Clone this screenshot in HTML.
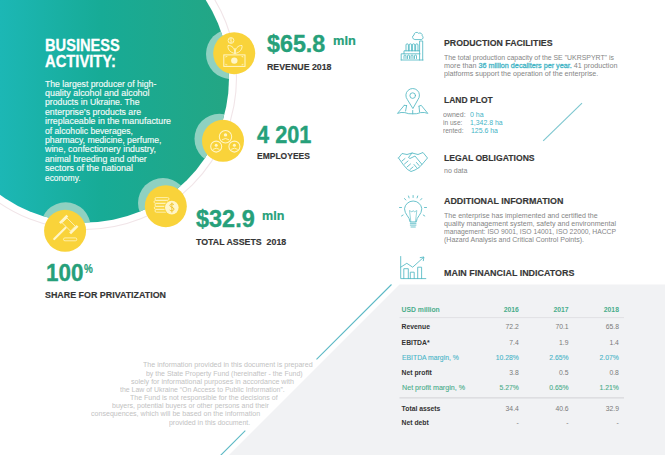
<!DOCTYPE html>
<html><head><meta charset="utf-8">
<style>
html,body{margin:0;padding:0;}
body{width:665px;height:455px;position:relative;overflow:hidden;background:#fff;font-family:"Liberation Sans",sans-serif;}
svg.bg{position:absolute;left:0;top:0;}
.t{position:absolute;white-space:nowrap;line-height:1;transform-origin:0 0;}
</style></head><body>
<svg class="bg" width="665" height="455" viewBox="0 0 665 455">
<defs>
<linearGradient id="tg" gradientUnits="userSpaceOnUse" x1="0" y1="0" x2="225" y2="0">
<stop offset="0" stop-color="#1cb7b5"/>
<stop offset="0.45" stop-color="#17ab96"/>
<stop offset="1" stop-color="#23a684"/>
</linearGradient>
<clipPath id="cc"><circle cx="85" cy="78.5" r="144"/></clipPath>
</defs>
<!-- grey panel -->
<polygon points="399.5,284.5 665,284.5 665,455 229,455" fill="#f1f2f4"/>
<!-- ring -->
<circle cx="85" cy="78" r="151.5" fill="none" stroke="#f1e5e8" stroke-width="1.1"/>
<!-- teal circle -->
<circle cx="85" cy="78.5" r="144" fill="url(#tg)"/>
<g clip-path="url(#cc)" fill="#8fd1c1">
<circle cx="231" cy="54" r="25"/>
<circle cx="219.5" cy="138.8" r="25"/>
<circle cx="163" cy="203" r="25"/>
<circle cx="65.6" cy="227.3" r="25"/>
</g>
<!-- yellow circles -->
<g fill="#f9d33a">
<circle cx="234.2" cy="53.2" r="21"/>
<circle cx="223" cy="140.8" r="21"/>
<circle cx="165.8" cy="206.2" r="21"/>
<circle cx="65.1" cy="230.8" r="21"/>
</g>
<!-- icon glyphs -->
<g fill="none" stroke="#fff6c8" stroke-width="1">
 <!-- revenue -->
 <rect x="223.8" y="54.9" width="21.2" height="11.5"/>
 <path d="M225.8 57.5 v-1 h1.5 M243 57.5 v-1 h-1.5 M225.8 63.8 v1 h1.5 M243 63.8 v1 h-1.5" stroke-width="0.7"/>
 <circle cx="234.3" cy="60.6" r="3.2" fill="#fff6c8" stroke="none"/>
 <path d="M235 53.5 C229.5 52.5 227.5 48.5 228 45.5 C232 45.2 235 48.5 235 53.5 Z M235 53.5 C240.5 52.5 242.5 48.5 242 45.5 C238 45.2 235 48.5 235 53.5 Z M235 53.5 V48" stroke-width="0.9"/>
 <circle cx="231" cy="40.5" r="2.9" stroke-width="0.9"/>
 <path d="M232 39.2 c-0.5 -0.6 -2.2 -0.6 -2.2 0.5 c0 1 2.2 0.8 2.2 1.8 c0 1 -1.7 1 -2.2 0.4 M231 38 v5" stroke-width="0.6"/>
 <!-- employees -->
 <g stroke-width="1.05">
 <circle cx="225.5" cy="136.7" r="6.2"/>
 <circle cx="216.2" cy="146.6" r="5.5"/>
 <circle cx="234.4" cy="146.6" r="5.5"/>
 </g>
 <circle cx="225.5" cy="134.9" r="1.7" fill="#fff6c8" stroke="none"/>
 <circle cx="216.2" cy="145.2" r="1.5" fill="#fff6c8" stroke="none"/>
 <circle cx="234.4" cy="145.2" r="1.5" fill="#fff6c8" stroke="none"/>
 <path d="M222 139.8 q3.5 -2.6 7 0 M212.9 149.4 q3.3 -2.4 6.6 0 M231.1 149.4 q3.3 -2.4 6.6 0" stroke-width="0.9"/>
 <!-- assets -->
 <g stroke-width="0.8">
 <rect x="155" y="197.6" width="14" height="2.6" rx="1.3"/>
 <rect x="154" y="200.6" width="14" height="2.6" rx="1.3"/>
 <rect x="155" y="203.6" width="12" height="2.6" rx="1.3"/>
 <rect x="154.3" y="206.6" width="12" height="2.6" rx="1.3"/>
 <rect x="155" y="209.6" width="12" height="2.6" rx="1.3"/>
 </g>
 <circle cx="171.8" cy="207.6" r="7.6" fill="#f9d33a" stroke="none"/>
 <circle cx="171.8" cy="207.6" r="6.8" fill="#fff6c8" stroke="none"/>
 <path d="M173.9 204.6 c-0.8 -1 -4 -1.1 -4 0.9 c0 2 4.1 1.5 4.1 3.6 c0 2.1 -3.4 2.1 -4.3 0.9 M171.9 202.6 v10" stroke="#f0c430" stroke-width="1"/>
 <!-- gavel -->
 <g transform="translate(68.75 224.5) rotate(45)">
  <rect x="-8.5" y="-5.25" width="2.6" height="10.5" fill="#fff6c8" stroke="none"/>
  <rect x="5.9" y="-5.25" width="2.6" height="10.5" fill="#fff6c8" stroke="none"/>
  <rect x="-5.9" y="-3.4" width="11.8" height="6.8" stroke-width="0.8"/>
  <rect x="-1.1" y="3.4" width="2.2" height="18.2" rx="1.1" fill="#fff6c8" stroke="none"/>
 </g>
 <rect x="63.5" y="237.9" width="13.3" height="2.9" rx="1.45" stroke-width="0.8"/>
</g>
</g>
<!-- diagonal teal lines -->
<g stroke="#5cb9c5" stroke-width="1.1">
<line x1="391.5" y1="284.5" x2="316.5" y2="359.3"/>
<line x1="245.3" y1="430.7" x2="220.5" y2="455.5"/>
<line x1="582" y1="103.2" x2="543.2" y2="140.8" stroke="#7cc6cf"/>
</g>
<!-- right column icons -->
<g fill="none" stroke="#52b8c3" stroke-width="0.85" stroke-linejoin="round" stroke-linecap="round">
 <!-- factory -->
 <path d="M401.2 60 V53.8 H420 M401.2 60 H423 M404 53.8 V50.8 H419.6 M406 50.8 V45 a1.2 1.2 0 0 1 2.4 0 V50.8 M409.2 50.8 V45 a1.2 1.2 0 0 1 2.4 0 V50.8 M412.4 50.8 V45 a1.2 1.2 0 0 1 2.4 0 V50.8 M415.6 50.8 V45 a1.2 1.2 0 0 1 2.4 0 V50.8"/>
 <path d="M419.6 60 V41 H422.7 V60"/>
 <path d="M404 58.5 v-2.5 a1 1 0 0 1 2 0 v2.5 M407.5 58.5 v-2.5 a1 1 0 0 1 2 0 v2.5 M411 58.5 v-2.5 a1 1 0 0 1 2 0 v2.5 M414.5 58.5 v-2.5 a1 1 0 0 1 2 0 v2.5"/>
 <path d="M414.5 39.5 a2.3 2.3 0 0 1 -0.5 -4.4 a2.6 2.6 0 0 1 4.6 -1.8 a2.4 2.4 0 0 1 3.6 2.6 a2 2 0 0 1 -0.6 3.6 Z"/>
 <!-- land plot -->
 <path d="M404.3 105.3 L397.5 113.4 Q401 112 404.8 112.6 Q408.7 114.2 412.7 113.8 Q416.7 114.2 420.6 112.6 Q424.4 112 427.8 113.4 L421.2 105.3 L419 106.2 M404.3 105.3 L406.6 105.6 M406.6 105.6 L405.6 111 M419 106.2 L419.6 112 M412.7 113.8 V110.5"/>
 <path d="M412.7 108.2 L407.4 99.6 A6.8 6.8 0 1 1 418 99.6 Z" fill="#fff"/>
 <circle cx="412.7" cy="95.6" r="2.8"/>
 <!-- handshake -->
 <path d="M398.5 158 L402 153.5 L407 154.5 L412 153 L418 154.5 L423 152.5 L427.5 158 L422 164.5"/>
 <path d="M412 153 L408.5 157.5 L410 158.5 L415 156 L422 164.5 L419 167.5"/>
 <path d="M398.5 158 L403.5 165 L407.5 169.5 L411 171.5 L415 170 L419 167.5"/>
 <path d="M402 161 L405 158.5 M404.5 164 L408 161 M407 167 L410.5 164 M410 169.5 L413 167 M414 164.5 L416.5 167.5 M416.5 162.5 L419 165.5"/>
 <!-- bulb -->
 <path d="M410 221.5 C410 217 404.5 214.5 404.5 208.8 A8.7 8.7 0 0 1 421.8 208.8 C421.8 214.5 416.3 217 416.3 221.5 Z"/>
 <path d="M410.3 223.3 H416 M410.3 225.1 H416 M411 227 H415.3"/>
 <path d="M410.8 221.5 L409.5 210.5 L412 212 L413.2 210.5 L414.4 212 L416.8 210.5 L415.5 221.5" stroke-width="0.6"/>
 <path d="M413.1 195.5 v2 M404.5 198.5 l1.3 1.5 M421.8 198.5 l-1.3 1.5 M399.5 207.5 h2 M426.5 207.5 h-2 M401.5 216 l1.6 -1 M424.8 216 l-1.6 -1 M408.5 196 l0.6 1.9 M417.7 196 l-0.6 1.9"/>
 <!-- chart -->
 <path d="M400.7 256.5 V278.6 H425.8"/>
 <path d="M403.8 278.6 V268.7 H408.3 V278.6 M410.3 278.6 V272.2 H414.2 V278.6 M417.7 278.6 V267.2 H421.6 V278.6"/>
 <path d="M400.7 267.2 L406.8 263.3 L412.7 267.2 L423.6 257.3"/>
 <path d="M420.2 257.6 L423.9 257 L423.3 260.7" />
</g>
<!-- table separators -->
<line x1="399.5" y1="317.6" x2="624" y2="317.6" stroke="#e1e1e4" stroke-width="1"/>
<line x1="399.5" y1="397.9" x2="624" y2="397.9" stroke="#d2d2d5" stroke-width="1"/>
</svg>
<div class='t' style='left:45.0px;top:37.93px;font-size:15.8px;font-weight:700;color:#ffffff;transform:scaleX(0.9261);-webkit-text-stroke:0.3px #fff;'>BUSINESS</div>
<div class='t' style='left:45.0px;top:54.13px;font-size:15.8px;font-weight:700;color:#ffffff;transform:scaleX(0.9334);-webkit-text-stroke:0.3px #fff;'>ACTIVITY:</div>
<div class='t' style='left:44.5px;top:79.71px;font-size:9.2px;font-weight:400;color:#f4fbf9;transform:scaleX(0.9433);-webkit-text-stroke:0.15px #f4fbf9;'>The largest producer of high-</div>
<div class='t' style='left:44.5px;top:89.09px;font-size:9.2px;font-weight:400;color:#f4fbf9;transform:scaleX(0.9696);-webkit-text-stroke:0.15px #f4fbf9;'>quality alcohol and alcohol</div>
<div class='t' style='left:44.5px;top:98.47px;font-size:9.2px;font-weight:400;color:#f4fbf9;transform:scaleX(0.9456);-webkit-text-stroke:0.15px #f4fbf9;'>products in Ukraine. The</div>
<div class='t' style='left:44.5px;top:107.85px;font-size:9.2px;font-weight:400;color:#f4fbf9;transform:scaleX(0.9509);-webkit-text-stroke:0.15px #f4fbf9;'>enterprise’s products are</div>
<div class='t' style='left:44.5px;top:117.23px;font-size:9.2px;font-weight:400;color:#f4fbf9;transform:scaleX(0.9599);-webkit-text-stroke:0.15px #f4fbf9;'>irreplaceable in the manufacture</div>
<div class='t' style='left:44.5px;top:126.61px;font-size:9.2px;font-weight:400;color:#f4fbf9;transform:scaleX(0.9363);-webkit-text-stroke:0.15px #f4fbf9;'>of alcoholic beverages,</div>
<div class='t' style='left:44.5px;top:135.99px;font-size:9.2px;font-weight:400;color:#f4fbf9;transform:scaleX(0.9479);-webkit-text-stroke:0.15px #f4fbf9;'>pharmacy, medicine, perfume,</div>
<div class='t' style='left:44.5px;top:145.37px;font-size:9.2px;font-weight:400;color:#f4fbf9;transform:scaleX(0.9631);-webkit-text-stroke:0.15px #f4fbf9;'>wine, confectionery industry,</div>
<div class='t' style='left:44.5px;top:154.75px;font-size:9.2px;font-weight:400;color:#f4fbf9;transform:scaleX(0.9535);-webkit-text-stroke:0.15px #f4fbf9;'>animal breeding and other</div>
<div class='t' style='left:44.5px;top:164.13px;font-size:9.2px;font-weight:400;color:#f4fbf9;transform:scaleX(0.9790);-webkit-text-stroke:0.15px #f4fbf9;'>sectors of the national</div>
<div class='t' style='left:44.5px;top:173.51px;font-size:9.2px;font-weight:400;color:#f4fbf9;transform:scaleX(0.9066);-webkit-text-stroke:0.15px #f4fbf9;'>economy.</div>
<div class='t' style='left:267.0px;top:33.01px;font-size:23.5px;font-weight:700;color:#26a07a;transform:scaleX(0.9913);-webkit-text-stroke:0.35px #26a07a;'>$65.8</div>
<div class='t' style='left:332.8px;top:34.34px;font-size:13.3px;font-weight:700;color:#26a07a;transform:scaleX(0.9644);-webkit-text-stroke:0.20px #26a07a;'>mln</div>
<div class='t' style='left:267.0px;top:63.48px;font-size:9.0px;font-weight:700;color:#353535;transform:scaleX(0.9766);-webkit-text-stroke:0.15px #353535;'>REVENUE 2018</div>
<div class='t' style='left:257.0px;top:122.85px;font-size:23.8px;font-weight:700;color:#26a07a;transform:scaleX(0.9133);-webkit-text-stroke:0.35px #26a07a;'>4 201</div>
<div class='t' style='left:256.6px;top:151.91px;font-size:9.2px;font-weight:700;color:#353535;transform:scaleX(0.9250);-webkit-text-stroke:0.15px #353535;'>EMPLOYEES</div>
<div class='t' style='left:195.8px;top:208.31px;font-size:23.5px;font-weight:700;color:#26a07a;transform:scaleX(0.9981);-webkit-text-stroke:0.35px #26a07a;'>$32.9</div>
<div class='t' style='left:262.0px;top:208.54px;font-size:13.3px;font-weight:700;color:#26a07a;transform:scaleX(0.9433);-webkit-text-stroke:0.20px #26a07a;'>mln</div>
<div class='t' style='left:195.8px;top:237.91px;font-size:9.2px;font-weight:700;color:#353535;transform:scaleX(0.9583);-webkit-text-stroke:0.15px #353535;'>TOTAL ASSETS&nbsp; 2018</div>
<div class='t' style='left:46.0px;top:261.05px;font-size:23.8px;font-weight:700;color:#26a07a;transform:scaleX(0.9416);-webkit-text-stroke:0.35px #26a07a;'>100</div>
<div class='t' style='left:84.2px;top:261.80px;font-size:13px;font-weight:700;color:#26a07a;transform:scaleX(0.7611);-webkit-text-stroke:0.20px #26a07a;'>%</div>
<div class='t' style='left:44.5px;top:290.58px;font-size:9.0px;font-weight:700;color:#353535;transform:scaleX(0.9878);-webkit-text-stroke:0.15px #353535;'>SHARE FOR PRIVATIZATION</div>
<div class='t' style='left:444.2px;top:37.86px;font-size:9.5px;font-weight:700;color:#363636;transform:scaleX(0.9218);-webkit-text-stroke:0.15px #363636;'>PRODUCTION FACILITIES</div>
<div class='t' style='left:443.6px;top:53.71px;font-size:7.2px;font-weight:400;color:#858585;transform:scaleX(0.9617);'>The total production capacity of the SE "UKRSPYRT" is</div>
<div class='t' style='left:443.6px;top:61.81px;font-size:7.2px;font-weight:400;color:#858585;transform:scaleX(1.0022);'>more than <span style="color:#3fb4c6;-webkit-text-stroke:0.3px #45b5c6">36 million decaliters per year.</span> 41 production</div>
<div class='t' style='left:443.6px;top:69.91px;font-size:7.2px;font-weight:400;color:#858585;transform:scaleX(0.9928);'>platforms support the operation of the enterprise.</div>
<div class='t' style='left:443.7px;top:94.96px;font-size:9.5px;font-weight:700;color:#363636;transform:scaleX(0.8959);-webkit-text-stroke:0.15px #363636;'>LAND PLOT</div>
<div class='t' style='left:443.4px;top:110.71px;font-size:7.2px;font-weight:400;color:#858585;transform:scaleX(0.9747);'>owned:</div>
<div class='t' style='left:469.5px;top:110.71px;font-size:7.2px;font-weight:400;color:#3fb4c6;transform:scaleX(0.9786);'>0 ha</div>
<div class='t' style='left:443.4px;top:118.71px;font-size:7.2px;font-weight:400;color:#858585;transform:scaleX(0.9156);'>in use:</div>
<div class='t' style='left:469.5px;top:118.71px;font-size:7.2px;font-weight:400;color:#3fb4c6;transform:scaleX(0.9593);'>1,342.8 ha</div>
<div class='t' style='left:443.4px;top:126.61px;font-size:7.2px;font-weight:400;color:#858585;transform:scaleX(0.9156);'>rented:</div>
<div class='t' style='left:471.0px;top:126.61px;font-size:7.2px;font-weight:400;color:#3fb4c6;transform:scaleX(0.9613);'>125.6 ha</div>
<div class='t' style='left:443.7px;top:152.76px;font-size:9.5px;font-weight:700;color:#363636;transform:scaleX(0.9066);-webkit-text-stroke:0.15px #363636;'>LEGAL OBLIGATIONS</div>
<div class='t' style='left:443.7px;top:167.21px;font-size:7.2px;font-weight:400;color:#858585;transform:scaleX(0.9756);'>no data</div>
<div class='t' style='left:443.6px;top:196.26px;font-size:9.5px;font-weight:700;color:#363636;transform:scaleX(0.9375);-webkit-text-stroke:0.15px #363636;'>ADDITIONAL INFORMATION</div>
<div class='t' style='left:443.6px;top:211.81px;font-size:7.2px;font-weight:400;color:#858585;transform:scaleX(0.9839);'>The enterprise has implemented and certified the</div>
<div class='t' style='left:443.6px;top:219.76px;font-size:7.2px;font-weight:400;color:#858585;transform:scaleX(0.9897);'>quality management system, safety and environmental</div>
<div class='t' style='left:443.6px;top:227.71px;font-size:7.2px;font-weight:400;color:#858585;transform:scaleX(0.9441);'>management: ISO 9001, ISO 14001, ISO 22000, HACCP</div>
<div class='t' style='left:443.6px;top:235.66px;font-size:7.2px;font-weight:400;color:#858585;transform:scaleX(0.9762);'>(Hazard Analysis and Critical Control Points).</div>
<div class='t' style='left:444.1px;top:268.16px;font-size:9.5px;font-weight:700;color:#363636;transform:scaleX(0.9394);-webkit-text-stroke:0.15px #363636;'>MAIN FINANCIAL INDICATORS</div>
<div class='t' style='left:401.6px;top:306.94px;font-size:6.8px;font-weight:700;color:#4aad8b;'>USD million</div>
<div class='t' style='left:401.6px;top:324.24px;font-size:6.8px;font-weight:700;color:#333333;'>Revenue</div>
<div class='t' style='left:401.6px;top:339.64px;font-size:6.8px;font-weight:700;color:#333333;'>EBITDA*</div>
<div class='t' style='left:401.6px;top:354.84px;font-size:6.8px;font-weight:400;color:#49b5c8;transform:scaleX(1.0023);-webkit-text-stroke:0.1px #49b5c8;'>EBITDA margin, %</div>
<div class='t' style='left:401.6px;top:369.84px;font-size:6.8px;font-weight:700;color:#333333;'>Net profit</div>
<div class='t' style='left:401.6px;top:384.64px;font-size:6.8px;font-weight:400;color:#4aad8b;transform:scaleX(1.0506);-webkit-text-stroke:0.1px #4aad8b;'>Net profit margin, %</div>
<div class='t' style='left:401.6px;top:405.64px;font-size:6.8px;font-weight:700;color:#333333;'>Total assets</div>
<div class='t' style='left:401.6px;top:419.94px;font-size:6.8px;font-weight:700;color:#333333;'>Net debt</div>
<div class='t' style='left:142.7px;top:362.46px;font-size:6.9px;font-weight:400;color:#c2c2c2;transform:scaleX(1.0297);'>The information provided in this document is prepared</div>
<div class='t' style='left:146.3px;top:370.63px;font-size:6.9px;font-weight:400;color:#c2c2c2;transform:scaleX(1.0095);'>by the State Property Fund (hereinafter - the Fund)</div>
<div class='t' style='left:131.2px;top:378.80px;font-size:6.9px;font-weight:400;color:#c2c2c2;transform:scaleX(1.0304);'>solely for informational purposes in accordance with</div>
<div class='t' style='left:119.8px;top:386.97px;font-size:6.9px;font-weight:400;color:#c2c2c2;transform:scaleX(1.0071);'>the Law of Ukraine “On Access to Public Information”.</div>
<div class='t' style='left:130.0px;top:395.14px;font-size:6.9px;font-weight:400;color:#c2c2c2;transform:scaleX(1.0194);'>The Fund is not responsible for the decisions of</div>
<div class='t' style='left:111.7px;top:403.31px;font-size:6.9px;font-weight:400;color:#c2c2c2;transform:scaleX(1.0189);'>buyers, potential buyers or other persons and their</div>
<div class='t' style='left:91.4px;top:411.48px;font-size:6.9px;font-weight:400;color:#c2c2c2;transform:scaleX(1.0266);'>consequences, which will be based on the information</div>
<div class='t' style='left:169.0px;top:419.65px;font-size:6.9px;font-weight:400;color:#c2c2c2;transform:scaleX(1.0095);'>provided in this document.</div>
<div class='t' style='left:503.7px;top:306.94px;font-size:6.8px;font-weight:700;color:#4aad8b;'>2016</div>
<div class='t' style='left:553.5px;top:306.94px;font-size:6.8px;font-weight:700;color:#4aad8b;'>2017</div>
<div class='t' style='left:603.8px;top:306.94px;font-size:6.8px;font-weight:700;color:#4aad8b;'>2018</div>
<div class='t' style='left:505.6px;top:324.24px;font-size:6.8px;font-weight:400;color:#7a7a7a;'>72.2</div>
<div class='t' style='left:555.4px;top:324.24px;font-size:6.8px;font-weight:400;color:#7a7a7a;'>70.1</div>
<div class='t' style='left:605.7px;top:324.24px;font-size:6.8px;font-weight:400;color:#7a7a7a;'>65.8</div>
<div class='t' style='left:509.3px;top:339.64px;font-size:6.8px;font-weight:400;color:#7a7a7a;'>7.4</div>
<div class='t' style='left:559.1px;top:339.64px;font-size:6.8px;font-weight:400;color:#7a7a7a;'>1.9</div>
<div class='t' style='left:609.4px;top:339.64px;font-size:6.8px;font-weight:400;color:#7a7a7a;'>1.4</div>
<div class='t' style='left:495.7px;top:354.84px;font-size:6.8px;font-weight:400;color:#49b5c8;-webkit-text-stroke:0.1px #49b5c8;'>10.28%</div>
<div class='t' style='left:549.3px;top:354.84px;font-size:6.8px;font-weight:400;color:#49b5c8;-webkit-text-stroke:0.1px #49b5c8;'>2.65%</div>
<div class='t' style='left:599.6px;top:354.84px;font-size:6.8px;font-weight:400;color:#49b5c8;-webkit-text-stroke:0.1px #49b5c8;'>2.07%</div>
<div class='t' style='left:509.3px;top:369.84px;font-size:6.8px;font-weight:400;color:#7a7a7a;'>3.8</div>
<div class='t' style='left:559.1px;top:369.84px;font-size:6.8px;font-weight:400;color:#7a7a7a;'>0.5</div>
<div class='t' style='left:609.4px;top:369.84px;font-size:6.8px;font-weight:400;color:#7a7a7a;'>0.8</div>
<div class='t' style='left:499.5px;top:384.64px;font-size:6.8px;font-weight:400;color:#4aad8b;-webkit-text-stroke:0.1px #4aad8b;'>5.27%</div>
<div class='t' style='left:549.3px;top:384.64px;font-size:6.8px;font-weight:400;color:#4aad8b;-webkit-text-stroke:0.1px #4aad8b;'>0.65%</div>
<div class='t' style='left:599.6px;top:384.64px;font-size:6.8px;font-weight:400;color:#4aad8b;-webkit-text-stroke:0.1px #4aad8b;'>1.21%</div>
<div class='t' style='left:505.6px;top:405.64px;font-size:6.8px;font-weight:400;color:#7a7a7a;'>34.4</div>
<div class='t' style='left:555.4px;top:405.64px;font-size:6.8px;font-weight:400;color:#7a7a7a;'>40.6</div>
<div class='t' style='left:605.7px;top:405.64px;font-size:6.8px;font-weight:400;color:#7a7a7a;'>32.9</div>
<div class='t' style='left:516.5px;top:419.94px;font-size:6.8px;font-weight:400;color:#7a7a7a;'>-</div>
<div class='t' style='left:566.3px;top:419.94px;font-size:6.8px;font-weight:400;color:#7a7a7a;'>-</div>
<div class='t' style='left:616.6px;top:419.94px;font-size:6.8px;font-weight:400;color:#7a7a7a;'>-</div>
</body></html>
